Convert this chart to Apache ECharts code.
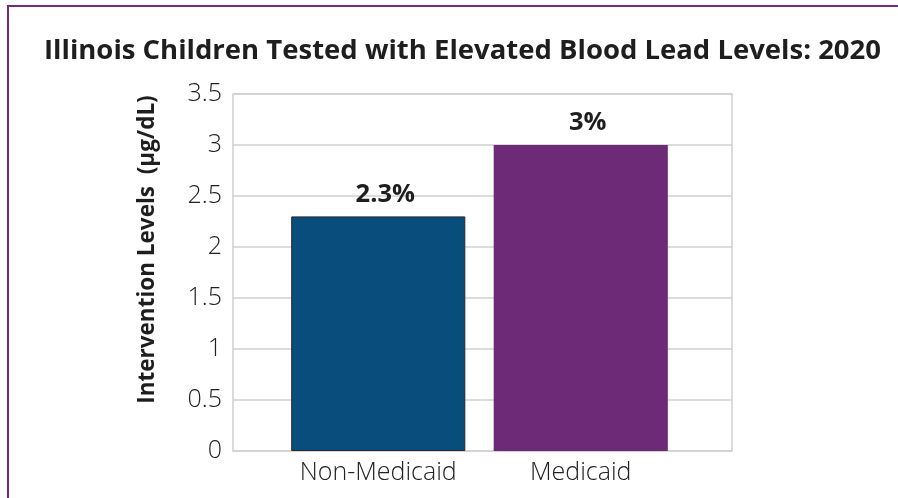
<!DOCTYPE html>
<html><head><meta charset="utf-8">
<script src="https://cdn.jsdelivr.net/npm/echarts@6/dist/echarts.min.js"></script>
<style>html,body{margin:0;padding:0;background:#fff}#c{width:898px;height:498px}</style>
</head><body><div id="c"></div>
<script>
const categories = ['Non-Medicaid', 'Medicaid'];
const values = [2.3, 3];
const barColors = ['#084d7b', '#6d2a77'];
const yTicks = [0, 0.5, 1, 1.5, 2, 2.5, 3, 3.5];

const chart = echarts.init(document.getElementById('c'), null, {renderer: 'canvas'});
const FONT = '"Open Sans"';
chart.setOption({
  backgroundColor: '#fff',
  animation: false,
  title: {
    text: 'Illinois Children Tested with Elevated Blood Lead Levels: 2020',
    left: 39, top: 32,
    textStyle: {fontFamily: FONT, fontWeight: 'bold', fontSize: 27.5, color: '#1e1e1e'}
  },
  graphic: [
    {type: 'rect', shape: {x: 7, y: 5, width: 891, height: 2}, style: {fill: '#6e2b80'}, silent: true},
    {type: 'rect', shape: {x: 7, y: 5, width: 2, height: 493}, style: {fill: '#6e2b80'}, silent: true}
  ],
  grid: [
    {left: 233, right: 166, top: 94, bottom: 47, show: true, borderColor: '#d0d0d0', borderWidth: 1.5},
    {left: 277, right: 216, top: 94, bottom: 47}
  ],
  xAxis: [
    {type: 'category', gridIndex: 0, data: categories, axisLabel: {show: false}, axisTick: {show: false},
     axisLine: {show: false}},
    {type: 'category', gridIndex: 1, data: categories, axisTick: {show: false}, axisLine: {show: false},
     axisLabel: {interval: 0, fontFamily: FONT, fontWeight: 300, fontSize: 25, color: '#222', margin: 9}}
  ],
  yAxis: [
    {type: 'value', gridIndex: 0, min: yTicks[0], max: yTicks[yTicks.length - 1], interval: 0.5,
     name: 'Intervention Levels  (µg/dL)', nameLocation: 'middle', nameGap: 74,
     nameTextStyle: {fontFamily: FONT, fontWeight: 'bold', fontSize: 22.5, color: '#1e1e1e', padding: [0, 0, 0, 46]},
     axisLine: {show: false}, axisTick: {show: false},
     splitLine: {lineStyle: {color: '#d0d0d0', width: 1.5}},
     axisLabel: {fontFamily: FONT, fontWeight: 300, fontSize: 25, color: '#222', margin: 11}},
    {type: 'value', gridIndex: 1, min: yTicks[0], max: yTicks[yTicks.length - 1], interval: 0.5,
     show: false, splitLine: {show: false}}
  ],
  series: [{
    type: 'bar', xAxisIndex: 1, yAxisIndex: 1, barWidth: '86%',
    data: values.map((v, i) => ({value: v, itemStyle: {color: barColors[i],
      borderColor: i === 0 ? '#2a2a2a' : barColors[i], borderWidth: i === 0 ? 1 : 0}})),
    label: {show: true, position: 'top', distance: 9, offset: [7, 0],
      formatter: p => p.value + '%',
      fontFamily: FONT, fontWeight: 'bold', fontSize: 25.5, color: '#1e1e1e'}
  }]
});
</script></body></html>
